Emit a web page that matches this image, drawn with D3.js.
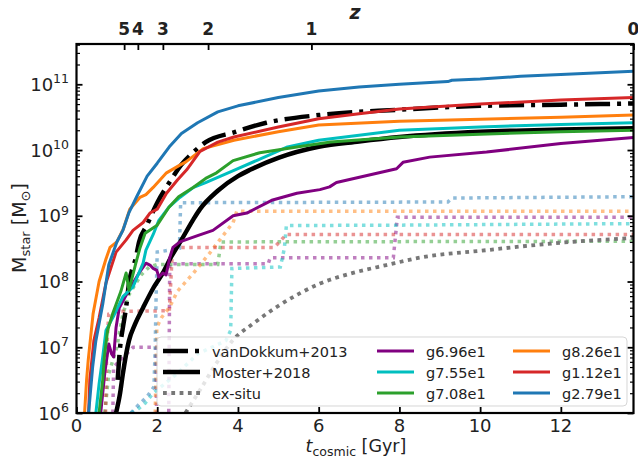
<!DOCTYPE html>
<html>
<head>
<meta charset="utf-8">
<script src="https://cdn.jsdelivr.net/npm/d3@7"></script>
<style>
body { margin: 0; background: #fff; }
svg { font-family: "DejaVu Sans", sans-serif; }
</style>
</head>
<body>
<script>
// stellar mass histories, [t_cosmic (Gyr), M_star (Msun)]
const vanDokkum = [[1.02,3.2e6],[1.08,1.0e7],[1.15,2.0e7],[1.23,4.1e7],[1.3,9.3e7],[1.47,2.3e8],[1.55,4.0e8],[1.74,7.1e8],[2.0,1.58e9],[2.3,3.2e9],[2.6,6.0e9],[2.9,9.3e9],[3.2,1.32e10],[3.9,1.86e10],[4.7,2.6e10],[6.0,3.4e10],[8,4.1e10],[10,4.7e10],[12,4.9e10],[13.8,5.1e10]];
const moster = [[0.98,1.0e6],[1.08,2.0e6],[1.15,4.0e6],[1.3,1.26e7],[1.45,2.24e7],[1.65,4.0e7],[1.9,7.9e7],[2.14,1.35e8],[2.35,2.4e8],[2.6,4.3e8],[2.9,8.9e8],[3.06,1.26e9],[3.5,2.4e9],[4.0,4.0e9],[4.3,5.0e9],[5.0,7.6e9],[6.0,1.12e10],[7,1.35e10],[8,1.58e10],[10,1.9e10],[12,2.05e10],[13.8,2.14e10]];
const exsitu = [[2.7,1.0e6],[3.06,2.24e6],[3.47,5.75e6],[3.88,1.29e7],[4.38,2.3e7],[4.96,4.1e7],[5.53,6.6e7],[6.03,9.3e7],[6.85,1.35e8],[7.68,1.78e8],[8.5,2.3e8],[10.16,3.0e8],[11.8,3.8e8],[13.8,4.6e8]];

const g696 = [[0.6,1.0e6],[0.7,4.0e6],[0.8,1.12e7],[0.87,7.9e6],[0.92,7.1e6],[0.98,2.0e7],[1.06,4.0e7],[1.3,7.4e7],[1.55,1.35e8],[1.72,1.9e8],[1.82,1.78e8],[1.9,1.58e8],[1.99,1.48e8],[2.04,1.17e8],[2.14,1.35e8],[2.22,1.26e8],[2.31,2.3e8],[2.39,3.3e8],[2.56,4.0e8],[3.0,5.0e8],[3.38,6.0e8],[3.88,1.0e9],[4.22,1.1e9],[4.86,1.74e9],[5.46,2.2e9],[6.03,2.5e9],[6.27,2.75e9],[6.44,3.2e9],[7.93,5.2e9],[8.09,6.5e9],[8.75,7.8e9],[10.16,9.3e9],[12,1.26e10],[13.8,1.55e10]];
const g755 = [[0.48,1.0e6],[0.56,2.8e6],[0.65,7.1e6],[0.73,1.8e7],[0.91,2.9e7],[1.15,5.9e7],[1.4,8.3e7],[1.65,1.9e8],[1.72,3.0e8],[1.9,5.2e8],[2.04,8.5e8],[2.29,1.35e9],[2.56,1.9e9],[2.9,2.7e9],[3.2,3.2e9],[3.9,4.9e9],[4.5,7.1e9],[5.2,1.1e10],[6,1.41e10],[8,2.0e10],[10,2.24e10],[12,2.45e10],[13.8,2.6e10]];
const g708 = [[0.56,1.0e6],[0.65,3.2e6],[0.69,7.1e6],[0.77,1.8e7],[0.9,3.3e7],[1.1,7.1e7],[1.23,1.35e8],[1.3,7.4e7],[1.47,1.9e8],[1.57,3.2e8],[1.7,5.4e8],[1.99,7.1e8],[2.29,1.35e9],[2.53,1.95e9],[2.89,2.7e9],[3.2,3.7e9],[3.47,4.5e9],[3.88,6.9e9],[4.54,9.1e9],[5.5,1.12e10],[6.3,1.32e10],[8,1.58e10],[10,1.74e10],[12,1.9e10],[13.8,2.0e10]];
const g826 = [[0.2,1.0e6],[0.25,3.2e6],[0.29,6.3e6],[0.41,3.2e7],[0.56,1.0e8],[0.73,2.2e8],[0.83,3.3e8],[1.0,4.0e8],[1.16,6.3e8],[1.32,1.26e9],[1.57,1.9e9],[1.72,2.1e9],[1.9,2.7e9],[2.23,4.5e9],[2.56,5.9e9],[2.71,6.6e9],[3.14,1.05e10],[3.9,1.41e10],[5,1.9e10],[6,2.4e10],[8,2.75e10],[10,2.95e10],[12,3.16e10],[13.8,3.4e10]];
const g112 = [[0.3,1.0e6],[0.33,3.2e6],[0.43,1.26e7],[0.56,2.8e7],[0.73,9.5e7],[0.98,2.8e8],[1.23,4.3e8],[1.4,6.0e8],[1.65,7.9e8],[1.82,1.1e9],[2.0,1.26e9],[2.23,2.2e9],[2.5,3.5e9],[2.73,5.0e9],[3.06,9.5e9],[3.5,1.32e10],[3.9,1.58e10],[5,2.24e10],[6,3.0e10],[7,3.55e10],[8,4.2e10],[10,5.0e10],[12,5.75e10],[13.8,6.3e10]];
const g279 = [[0.3,1.0e6],[0.4,5.0e6],[0.48,1.26e7],[0.65,4.5e7],[0.8,1.8e8],[1.0,4.0e8],[1.15,6.0e8],[1.3,1.12e9],[1.5,2.0e9],[1.75,4.0e9],[2.0,6.3e9],[2.3,1.12e10],[2.6,1.78e10],[3.0,2.6e10],[3.5,3.8e10],[4.0,4.7e10],[5.0,6.3e10],[6.0,7.9e10],[7.0,9.1e10],[8.0,1.0e11],[9.2,1.1e11],[9.3,1.15e11],[10,1.2e11],[11,1.32e11],[12,1.41e11],[13.8,1.58e11]];

// ex-situ components
const g696Ex = [[0.9,1.0e6],[0.92,5.0e6],[1.4,1.0e7],[1.97,1.0e7],[1.99,3.2e5],[2.28,3.2e5],[2.31,1.86e8],[4.75,1.86e8],[4.8,2.3e8],[7.85,2.3e8],[7.95,9.5e8],[13.8,9.5e8]];
const g755Ex = [[1.35,1.0e6],[1.5,1.12e6],[1.7,1.41e6],[1.9,2.0e6],[2.5,4.0e6],[3.0,7.9e6],[3.7,1.26e7],[3.82,1.8e7],[3.85,1.58e8],[5.05,1.66e8],[5.15,3.2e8],[5.2,7.1e8],[8,7.2e8],[13.8,7.6e8]];
const g708Ex = [[0.7,1.0e6],[0.8,4.0e6],[1.0,1.0e7],[1.15,3.2e7],[1.3,6.3e7],[1.45,8.9e7],[1.6,1.26e8],[1.8,1.66e8],[2.0,1.82e8],[3.5,1.82e8],[3.58,4.0e8],[13.8,4.1e8]];
const g826Ex = [[1.95,1.0e6],[1.99,2.0e7],[2.1,2.8e7],[2.3,4.0e7],[2.5,7.1e7],[2.9,1.35e8],[3.3,2.7e8],[3.55,4.3e8],[3.88,7.9e8],[3.97,1.17e9],[13.8,1.17e9]];
const g112Ex = [[0.72,1.0e6],[0.75,1.0e7],[0.8,3.2e7],[1.0,3.5e7],[2.3,3.6e7],[2.38,3.3e8],[4.9,3.3e8],[5.2,5.2e8],[13.8,5.2e8]];
const g279Ex = [[1.35,1.0e6],[1.5,1.26e6],[1.75,1.78e6],[1.92,2.5e6],[1.95,1.0e7],[1.97,5.0e7],[2.0,2.8e8],[2.3,3.0e8],[2.55,3.2e8],[2.58,1.58e9],[9.2,1.62e9],[9.3,1.86e9],[13.8,1.95e9]];

const galaxyNames = ['g6.96e1', 'g7.55e1', 'g7.08e1', 'g8.26e1', 'g1.12e1', 'g2.79e1'];
const galaxyColors = ['#800080', '#00bfbf', '#2ca02c', '#ff7f0e', '#d62728', '#1f77b4'];
const galaxyMass = [g696, g755, g708, g826, g112, g279];
const galaxyExsitu = [g696Ex, g755Ex, g708Ex, g826Ex, g112Ex, g279Ex];

const xTicks = [0, 2, 4, 6, 8, 10, 12];
const yTicks = [1e6, 1e7, 1e8, 1e9, 1e10, 1e11];
const zLabels = ['5', '4', '3', '2', '1', '0'];
const zTimes = [1.18, 1.52, 2.14, 3.26, 5.82, 13.8];

const w = 638, h = 459;
const L = 76.5, R = 633.5, T = 44, B = 413;

const x = d3.scaleLinear().domain([0, 13.8]).range([L, R]);
const y = d3.scaleLog().domain([1e6, 4.1e11]).range([B, T]);

const svg = d3.select('body').append('svg').attr('width', w).attr('height', h);
svg.append('defs').append('clipPath').attr('id', 'clip')
   .append('rect').attr('x', L).attr('y', T).attr('width', R - L).attr('height', B - T);

const line = d3.line().x(d => x(d[0])).y(d => y(d[1]));
const smooth = d3.line().curve(d3.curveMonotoneX).x(d => x(d[0])).y(d => y(d[1]));

const plot = svg.append('g').attr('clip-path', 'url(#clip)');

// ex-situ dotted, faded
galaxyExsitu.forEach((s, i) => {
  plot.append('path').attr('d', line(s)).attr('fill', 'none')
      .attr('stroke', galaxyColors[i]).attr('stroke-opacity', 0.5)
      .attr('stroke-width', 3.5).attr('stroke-dasharray', '3.5,4.5');
});
plot.append('path').attr('d', smooth(exsitu)).attr('fill', 'none')
    .attr('stroke', '#777').attr('stroke-width', 3.8).attr('stroke-dasharray', '3.8,4.5');

plot.append('path').attr('d', smooth(vanDokkum)).attr('fill', 'none')
    .attr('stroke', '#000').attr('stroke-width', 4.5).attr('stroke-dasharray', '25,7,4,7');
plot.append('path').attr('d', smooth(moster)).attr('fill', 'none')
    .attr('stroke', '#000').attr('stroke-width', 4.5);

galaxyMass.forEach((s, i) => {
  plot.append('path').attr('d', line(s)).attr('fill', 'none')
      .attr('stroke', galaxyColors[i]).attr('stroke-width', 3).attr('stroke-linejoin', 'round');
});

// ticks, all pointing inward
const minor = [];
for (let e = 6; e <= 11; e++) for (let k = 2; k <= 9; k++) if (k * 10 ** e < 4.1e11) minor.push(k * 10 ** e);

function tickGroup(pos, axis, width) {
  svg.append('g').attr('transform', pos).call(axis)
     .call(g => g.select('.domain').remove())
     .selectAll('line').attr('stroke-width', width);
}
tickGroup(`translate(${L},0)`, d3.axisLeft(y).tickValues(minor).tickSize(-3.5).tickFormat(''), 1.2);
tickGroup(`translate(${R},0)`, d3.axisRight(y).tickValues(minor).tickSize(-3.5).tickFormat(''), 1.2);
tickGroup(`translate(${L},0)`, d3.axisLeft(y).tickValues(yTicks).tickSize(-6).tickFormat(''), 1.8);
tickGroup(`translate(${R},0)`, d3.axisRight(y).tickValues(yTicks).tickSize(-6).tickFormat(''), 1.8);
tickGroup(`translate(0,${B})`, d3.axisBottom(x).tickValues(xTicks).tickSize(-6).tickFormat(''), 1.8);
tickGroup(`translate(0,${T})`, d3.axisTop(x).tickValues(zTimes).tickSize(-6).tickFormat(''), 1.8);

// frame
svg.append('rect').attr('x', L).attr('y', T).attr('width', R - L).attr('height', B - T)
   .attr('fill', 'none').attr('stroke', '#000').attr('stroke-width', 2.2);

// tick labels
svg.append('g').selectAll('text').data(xTicks).join('text')
   .attr('x', d => x(d)).attr('y', 432).attr('text-anchor', 'middle')
   .attr('font-size', 18).attr('fill', '#222').text(d => d);

const yl = svg.append('g').selectAll('text').data(yTicks).join('text')
   .attr('x', 69).attr('y', d => y(d) + 6.5).attr('text-anchor', 'end')
   .attr('font-size', 18).attr('fill', '#222');
yl.append('tspan').text('10');
yl.append('tspan').attr('dy', -7.5).attr('font-size', 12.5).text(d => Math.round(Math.log10(d)));

svg.append('g').selectAll('text').data(zLabels).join('text')
   .attr('x', (d, i) => x(zTimes[i])).attr('y', 35).attr('text-anchor', 'middle')
   .attr('font-size', 17).attr('font-weight', 'bold').attr('fill', '#222').text(d => d);
svg.append('text').attr('x', 355).attr('y', 19).attr('text-anchor', 'middle')
   .attr('font-size', 19).attr('font-weight', 'bold').attr('font-style', 'italic').attr('fill', '#222').text('z');

// axis titles
const xt = svg.append('text').attr('x', 356).attr('y', 452).attr('text-anchor', 'middle')
   .attr('font-size', 17.5).attr('fill', '#222');
xt.append('tspan').attr('font-style', 'italic').text('t');
xt.append('tspan').attr('font-size', 12.5).attr('dy', 3.5).text('cosmic');
xt.append('tspan').attr('dy', -3.5).text(' [Gyr]');

const ytl = svg.append('text').attr('transform', 'translate(26,228) rotate(-90)')
   .attr('text-anchor', 'middle').attr('font-size', 19).attr('fill', '#222');
ytl.append('tspan').text('M');
ytl.append('tspan').attr('font-size', 13).attr('dy', 4).text('star');
ytl.append('tspan').attr('dy', -4).text(' [M');
ytl.append('tspan').attr('font-size', 13).attr('dy', 4).text('⊙');
ytl.append('tspan').attr('dy', -4).text(']');

// legend
const lg = svg.append('g');
lg.append('rect').attr('x', 157).attr('y', 337).attr('width', 470).attr('height', 69).attr('rx', 4)
  .attr('fill', '#fff').attr('fill-opacity', 0.8).attr('stroke', '#ccc').attr('stroke-opacity', 0.8);
const legendItems = [
  {label: 'vanDokkum+2013', color: '#000', width: 4.5, dash: '25,7,4,7'},
  {label: 'Moster+2018', color: '#000', width: 4.5, dash: null},
  {label: 'ex-situ', color: '#777', width: 3.8, dash: '3.8,4.5'}
].concat(galaxyNames.map((n, i) => ({label: n, color: galaxyColors[i], width: 3, dash: null})));
const colX = [163, 377, 513];
const rowY = [351, 372, 393];
legendItems.forEach((d, i) => {
  const cx = colX[Math.floor(i / 3)], cy = rowY[i % 3];
  lg.append('line').attr('x1', cx).attr('x2', cx + 37).attr('y1', cy).attr('y2', cy)
    .attr('stroke', d.color).attr('stroke-width', d.width).attr('stroke-dasharray', d.dash);
  lg.append('text').attr('x', cx + 49).attr('y', cy + 5.5).attr('font-size', 14.5).attr('fill', '#222').text(d.label);
});
</script>
</body>
</html>
